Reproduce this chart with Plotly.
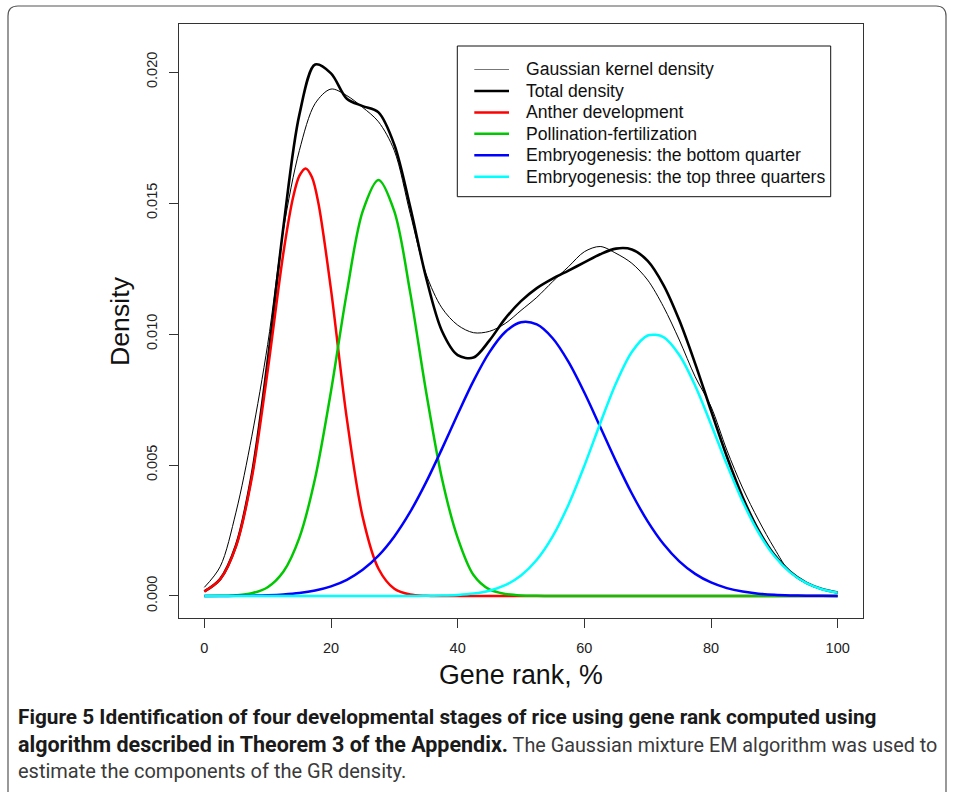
import plotly.graph_objects as go

# ---------------- data ----------------
gene_rank = [0, 2.5, 5, 7.5, 10, 12.5, 15, 17.5, 20, 22.5, 25, 27.5, 30, 32.5, 35, 37.5, 40,
             42.5, 45, 47.5, 50, 52.5, 55, 57.5, 60, 62.5, 65, 67.5, 70, 72.5, 75, 77.5, 80,
             82.5, 85, 87.5, 90, 92.5, 95, 97.5, 100]

kernel_density = [0.00033, 0.00112, 0.0032, 0.0061, 0.0096, 0.0140, 0.0170, 0.0188, 0.01935,
                  0.0191, 0.01865, 0.0181, 0.0170, 0.0146, 0.0123, 0.0110, 0.01034, 0.01005,
                  0.0101, 0.0104, 0.0109, 0.0114, 0.0120, 0.01257, 0.01314, 0.01334, 0.01308,
                  0.0127, 0.01206, 0.01104, 0.00977, 0.00837, 0.00723, 0.00557, 0.00412,
                  0.0029, 0.00182, 0.0009, 0.00048, 0.00025, 0.00012]

total_density = [0.000173, 0.000646, 0.001926, 0.004628, 0.008961, 0.014113, 0.018365,
                 0.020284, 0.01995, 0.01898, 0.0187, 0.01846, 0.017225, 0.014853, 0.012167,
                 0.010126, 0.009194, 0.009101, 0.009748, 0.010589, 0.011255, 0.011753,
                 0.012115, 0.012421, 0.012734, 0.013044, 0.01326, 0.013228, 0.012792,
                 0.011869, 0.010523, 0.00887, 0.007075, 0.005324, 0.003772, 0.002513,
                 0.001573, 0.000924, 0.000509, 0.000263, 0.000128]

anther_rank = [0, 2.5, 5, 7.5, 10, 12.5, 14, 15, 16, 17, 18, 20, 22.5, 25, 27.5, 30, 32.5,
               35, 37.5, 40, 50, 60, 70, 80, 90, 100]
anther = [0.000171, 0.000637, 0.001893, 0.004511, 0.008597, 0.01312, 0.01520, 0.016033,
          0.01632, 0.015984, 0.01501, 0.011695, 0.00677, 0.00302, 0.00104, 0.000275,
          0.000056, 0.000009, 0.000001, 0, 0, 0, 0, 0, 0, 0]

pollination = [0.000001, 0.000006, 0.000027, 0.000103, 0.000335, 0.000934, 0.002219,
               0.004505, 0.007818, 0.011589, 0.014678, 0.01588, 0.014678, 0.011589,
               0.007818, 0.004505, 0.002219, 0.0008, 0.00025, 0.00008, 0.00002, 0.000005,
               0.000001, 0, 0, 0, 0, 0, 0, 0, 0, 0, 0, 0, 0, 0, 0, 0, 0, 0, 0]

embryo_bottom = [0.000001, 0.000003, 0.000006, 0.000014, 0.000029, 0.000059, 0.000113,
                 0.000209, 0.000368, 0.000619, 0.000999, 0.001539, 0.002272, 0.003208,
                 0.004335, 0.005605, 0.006936, 0.00821, 0.009297, 0.010075, 0.010446,
                 0.010364, 0.009838, 0.008935, 0.007766, 0.006458, 0.005139, 0.003912,
                 0.00285, 0.001985, 0.001323, 0.000845, 0.000516, 0.000301, 0.000168,
                 0.00009, 0.000046, 0.000023, 0.000011, 0.000005, 0.000002]

embryo_top = [0, 0, 0, 0, 0, 0, 0, 0, 0, 0, 0, 0, 0, 0,
              0.000006, 0.000015, 0.000039, 0.000091, 0.000201, 0.000411, 0.000782,
              0.001383, 0.002276, 0.003486, 0.004968, 0.006586, 0.008121, 0.009316,
              0.009942, 0.009884, 0.0092, 0.008025, 0.006559, 0.005023, 0.003604,
              0.002423, 0.001527, 0.000901, 0.000498, 0.000258, 0.000126]

series_names = ["Gaussian kernel density", "Total density", "Anther development",
                "Pollination-fertilization", "Embryogenesis: the bottom quarter",
                "Embryogenesis: the top three quarters"]
series_colors = ["#000000", "#000000", "#FF0000", "#00C800", "#0000FF", "#00FFFF"]
series_widths = [1, 2.6, 2.5, 2.5, 2.5, 2.5]

x_ticks = [0, 20, 40, 60, 80, 100]
y_ticks = [0.0, 0.005, 0.010, 0.015, 0.020]

caption_1 = ("<span style='font-size:20.8px'><b>Figure 5 Identification of four developmental "
             "stages of rice using gene rank computed using</b></span>")
caption_2 = ("<span style='font-size:21.5px'><b>algorithm described in Theorem 3 of the Appendix.</b></span>"
             "<span style='color:#3a3a3a;font-size:19.8px'> The Gaussian mixture EM algorithm was used to</span>")
caption_3 = "estimate the components of the GR density."

# ---------------- figure ----------------
W, H = 954, 792
L, R, T, B = 179, 863, 24, 618


def px(xp):
    return (xp - L) / (R - L)


def py(yp):
    return (B - yp) / (B - T)


fig = go.Figure()
all_x = [gene_rank, gene_rank, anther_rank, gene_rank, gene_rank, gene_rank]
all_y = [kernel_density, total_density, anther, pollination, embryo_bottom, embryo_top]
for name, xv, yv, col, w in zip(series_names, all_x, all_y, series_colors, series_widths):
    fig.add_trace(go.Scatter(x=xv, y=yv, mode="lines", name=name,
                             line=dict(color=col, width=w, shape="spline", smoothing=0.9),
                             showlegend=False, hoverinfo="skip"))

font_main = "Liberation Sans, Arial, Helvetica, sans-serif"
axis_col = "#333333"

fig.update_layout(
    width=W, height=H,
    margin=dict(l=L, r=W - R, t=T, b=H - B, pad=0),
    paper_bgcolor="white", plot_bgcolor="white",
    font=dict(family=font_main, color="#222222", size=14),
    xaxis=dict(range=[-4, 104], tickvals=x_ticks, ticktext=[str(v) for v in x_ticks],
               showline=True, mirror=True, linecolor=axis_col, linewidth=1,
               ticks="outside", ticklen=9, tickcolor=axis_col, tickwidth=1,
               showgrid=False, zeroline=False, tickfont=dict(size=14.5),
               ticklabelstandoff=8),
    yaxis=dict(range=[-0.00084, 0.021833], tickvals=y_ticks,
               ticktext=["%.3f" % v for v in y_ticks], tickangle=-90,
               showline=True, mirror=True, linecolor=axis_col, linewidth=1,
               ticks="outside", ticklen=9, tickcolor=axis_col, tickwidth=1,
               showgrid=False, zeroline=False, tickfont=dict(size=14.5),
               ticklabelstandoff=6),
)

shapes = []
annotations = []

# outer rounded frame (page border)
fx0, fy0, fx1, fy1, rr = 8, 6, 946, 820, 10
path = (f"M {px(fx0)},{py(fy1)} L {px(fx0)},{py(fy0 + rr)} "
        f"Q {px(fx0)},{py(fy0)} {px(fx0 + rr)},{py(fy0)} "
        f"L {px(fx1 - rr)},{py(fy0)} Q {px(fx1)},{py(fy0)} {px(fx1)},{py(fy0 + rr)} "
        f"L {px(fx1)},{py(fy1)}")
shapes.append(dict(type="path", path=path, xref="paper", yref="paper",
                   line=dict(color="#555555", width=1.2)))

# legend box
shapes.append(dict(type="rect", xref="paper", yref="paper",
                   x0=px(457.3), x1=px(830.7), y0=py(196.7), y1=py(46),
                   line=dict(color="#111111", width=1), fillcolor="white", layer="above"))
row0, dy = 69.5, 21.45
for i, (name, col, w) in enumerate(zip(series_names, series_colors, series_widths)):
    yy = row0 + i * dy
    shapes.append(dict(type="line", xref="paper", yref="paper",
                       x0=px(474.3), x1=px(509), y0=py(yy), y1=py(yy),
                       line=dict(color=("#777777" if i == 0 else col),
                                 width=(1.2 if i == 0 else 2.5)),
                       layer="above"))
    annotations.append(dict(text=name, xref="paper", yref="paper", x=px(524), y=py(yy),
                            xanchor="left", yanchor="middle", showarrow=False,
                            font=dict(size=17.6, family=font_main, color="#111111")))

# axis titles
annotations.append(dict(text="Gene rank, %", xref="paper", yref="paper", x=0.5, y=py(675),
                        xanchor="center", yanchor="middle", showarrow=False,
                        font=dict(size=26.8, family=font_main, color="#111111")))
annotations.append(dict(text="Density", xref="paper", yref="paper", x=px(120), y=0.5,
                        xanchor="center", yanchor="middle", showarrow=False, textangle=-90,
                        font=dict(size=26.7, family=font_main, color="#111111")))

# caption
cap_font = "Roboto, Liberation Sans, sans-serif"
for txt, yy, col in [(caption_1, 717, "#1a1a1a"), (caption_2, 744, "#1a1a1a"),
                     (caption_3, 771, "#3a3a3a")]:
    annotations.append(dict(text=txt, xref="paper", yref="paper", x=px(16), y=py(yy),
                            xanchor="left", yanchor="middle", showarrow=False,
                            font=dict(size=20, family=cap_font, color=col)))

fig.update_layout(shapes=shapes, annotations=annotations)
fig.write_html("out.html", config={"displayModeBar": False},
               post_script="document.body.style.margin='0px';")
